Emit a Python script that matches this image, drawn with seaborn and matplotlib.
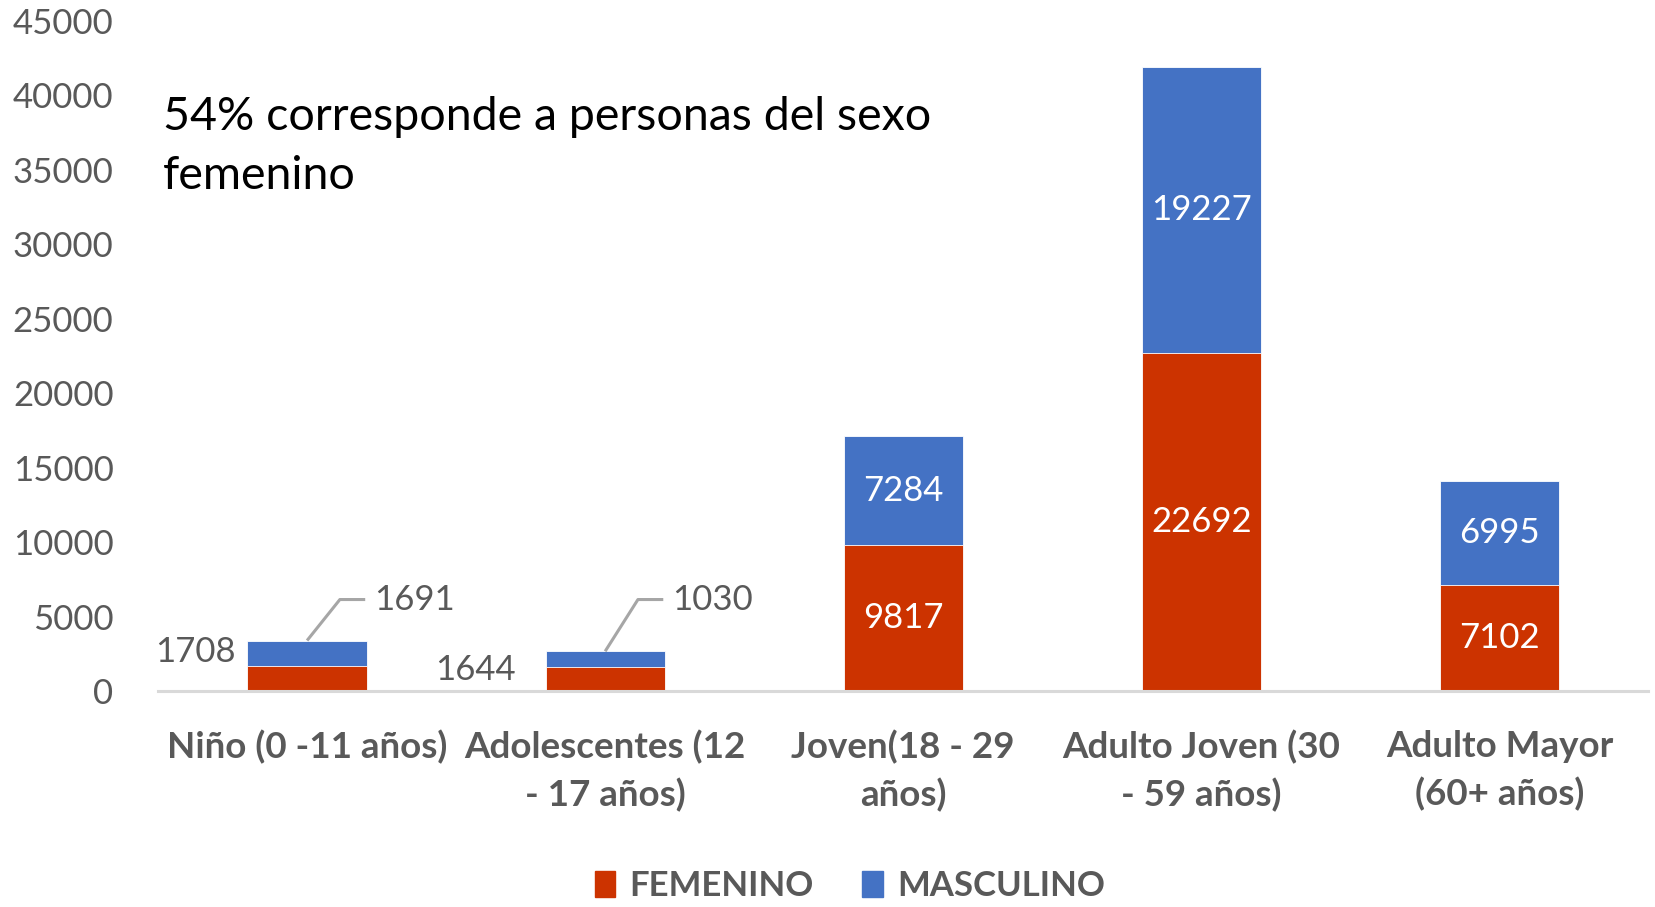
import numpy as np
import pandas as pd
import matplotlib.pyplot as plt
import seaborn as sns

categories = ["Niño (0 -11 años)", "Adolescentes (12\n- 17 años)", "Joven(18 - 29\naños)",
              "Adulto Joven (30\n- 59 años)", "Adulto Mayor\n(60+ años)"]
femenino = [1708, 1644, 9817, 22692, 7102]
masculino = [1691, 1030, 7284, 19227, 6995]
y_ticks = [0, 5000, 10000, 15000, 20000, 25000, 30000, 35000, 40000, 45000]

RED = "#CC3300"
BLUE = "#4472C4"
GRAY = "#595959"

sns.set_theme(style="white")
plt.rcParams["font.family"] = ["Lato", "DejaVu Sans"]

df = pd.DataFrame({"cat": categories, "fem": femenino, "masc": masculino})
df["total"] = df["fem"] + df["masc"]

fig = plt.figure(figsize=(16.55, 9.07), dpi=100)
ax = fig.add_axes([0.0955, 0.238, 0.9005, 0.739])

sns.barplot(data=df, x="cat", y="total", color=BLUE, width=0.40, saturation=1,
            edgecolor="white", linewidth=0.6, ax=ax)
sns.barplot(data=df, x="cat", y="fem", color=RED, width=0.40, saturation=1,
            edgecolor="white", linewidth=0.6, ax=ax)

ax.set_xlim(-0.5, 4.5)
ax.set_ylim(0, 45000)
ax.set_yticks(y_ticks)
ax.set_yticklabels([str(t) for t in y_ticks], fontsize=25, color=GRAY)
ax.tick_params(axis="y", length=0, pad=32)
ax.tick_params(axis="x", length=0, pad=28)
ax.set_xticks(range(len(categories)))
ax.set_xticklabels(categories, fontsize=26.5, fontweight="bold", color=GRAY, linespacing=1.49)
ax.set_xlabel("")
ax.set_ylabel("")
for s in ["top", "right", "left"]:
    ax.spines[s].set_visible(False)
ax.spines["bottom"].set_color("#D9D9D9")
ax.spines["bottom"].set_linewidth(2.2)

# labels inside big bars
for i in range(2, len(categories)):
    f, m = femenino[i], masculino[i]
    ax.text(i, f / 2, str(f), ha="center", va="center", color="white", fontsize=25)
    ax.text(i, f + m / 2, str(m), ha="center", va="center", color="white", fontsize=25)

# small bars: labels outside with leader lines
for i, dx_f in [(0, -0.376), (1, -0.436)]:
    f, m = femenino[i], masculino[i]
    ax.text(i + dx_f, f + 900 if i == 0 else f - 250, str(f), ha="center", va="center",
            color=GRAY, fontsize=25)
    ax.plot([i, i + 0.11, i + 0.195], [f + m, 6150, 6150], color="#A6A6A6", lw=2.2,
            solid_capstyle="butt")
    ax.text(i + 0.225, 6150, str(m), ha="left", va="center", color=GRAY, fontsize=25)

fig.text(0.0985, 0.839, "54% corresponde a personas del sexo\nfemenino", fontsize=33.5,
         color="black", ha="left", va="center", linespacing=1.5)

handles = [plt.Rectangle((0, 0), 1, 1, color=RED), plt.Rectangle((0, 0), 1, 1, color=BLUE)]
leg = fig.legend(handles, ["FEMENINO", "MASCULINO"], loc="center", bbox_to_anchor=(0.5135, 0.023),
                 ncol=2, frameon=False, handlelength=0.6, handleheight=0.75, handletextpad=0.4,
                 columnspacing=1.4, prop={"size": 25, "weight": "bold"})
for t in leg.get_texts():
    t.set_color(GRAY)

fig.savefig("out.png", dpi=100)
